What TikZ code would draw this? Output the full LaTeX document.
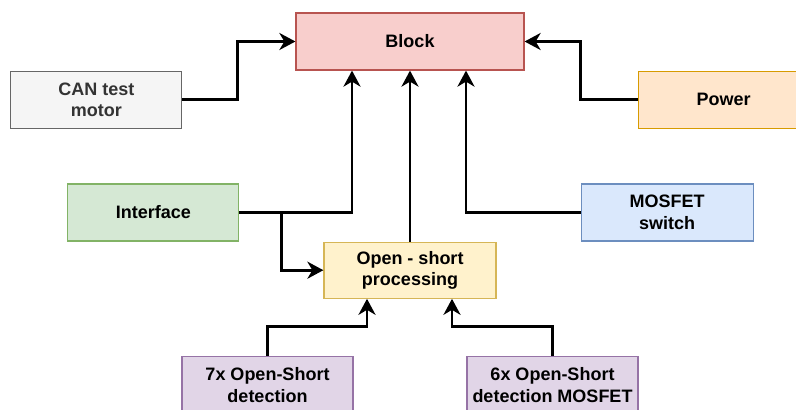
\documentclass[tikz,border=0pt]{standalone}
\usepackage{fontspec}
\setmainfont{Liberation Sans}
\usepackage{xcolor}
\usepackage{tikz}
\usetikzlibrary{arrows.meta,positioning}
\definecolor{redfill}{HTML}{F8CECC}
\definecolor{redline}{HTML}{B85450}
\definecolor{grayfill}{HTML}{F5F5F5}
\definecolor{grayline}{HTML}{666666}
\definecolor{graytext}{HTML}{333333}
\definecolor{orangefill}{HTML}{FFE6CC}
\definecolor{orangeline}{HTML}{D79B00}
\definecolor{greenfill}{HTML}{D5E8D4}
\definecolor{greenline}{HTML}{82B366}
\definecolor{bluefill}{HTML}{DAE8FC}
\definecolor{blueline}{HTML}{6C8EBF}
\definecolor{yellowfill}{HTML}{FFF2CC}
\definecolor{yellowline}{HTML}{D6B656}
\definecolor{purplefill}{HTML}{E1D5E7}
\definecolor{purpleline}{HTML}{9673A6}

\begin{document}
\begin{tikzpicture}[x=1pt, y=-1pt,
  font=\fontsize{18}{21.6}\selectfont\bfseries,
  box/.style={line width=1.2pt, align=center, minimum width=171pt, minimum height=57pt, inner sep=2pt},
  arr/.style={-{Stealth[length=16pt, width=17pt, inset=5pt]}, line width=2.8pt, draw=black}]
\clip (0,0) rectangle (796,410);
\node[box, fill=redfill, draw=redline, minimum width=228pt] (blk) at (410,41.5) {Block};
\node[box, fill=yellowfill, draw=yellowline, minimum width=172pt, minimum height=56pt, below=171pt of blk] (proc) {Open - short\\processing};
\node[box, fill=grayfill, draw=grayline, text=graytext, below left=0pt and 113pt of blk] (can) {CAN test\\motor};
\node[box, fill=orangefill, draw=orangeline, below right=0pt and 113pt of blk] (pwr) {Power};
\node[box, fill=greenfill, draw=greenline, above left=0pt and 84pt of proc] (intf) {Interface};
\node[box, fill=bluefill, draw=blueline, minimum width=172pt, above right=0pt and 84pt of proc] (mos) {MOSFET\\switch};
\node[box, fill=purplefill, draw=purpleline, below=57pt of proc, xshift=-142.5pt] (det7) {7x Open-Short\\detection};
\node[box, fill=purplefill, draw=purpleline, below=57pt of proc, xshift=142.5pt] (det6) {6x Open-Short\\detection MOSFET};
\draw[arr] (can.east) -- ++(55,0) |- (blk.west);
\draw[arr] (pwr.west) -- ++(-57,0) |- (blk.east);
\draw[arr] (intf.east) -| ([xshift=-58pt]blk.south);
\draw[arr] ([xshift=42pt]intf.east) |- (proc.west);
\draw[arr] (proc.north) -- (blk.south);
\draw[arr] (mos.west) -| ([xshift=56pt]blk.south);
\draw[arr] (det7.north) -- ++(0,-29) -| ([xshift=-43pt]proc.south);
\draw[arr] (det6.north) -- ++(0,-29) -| ([xshift=42pt]proc.south);
\end{tikzpicture}
\end{document}
